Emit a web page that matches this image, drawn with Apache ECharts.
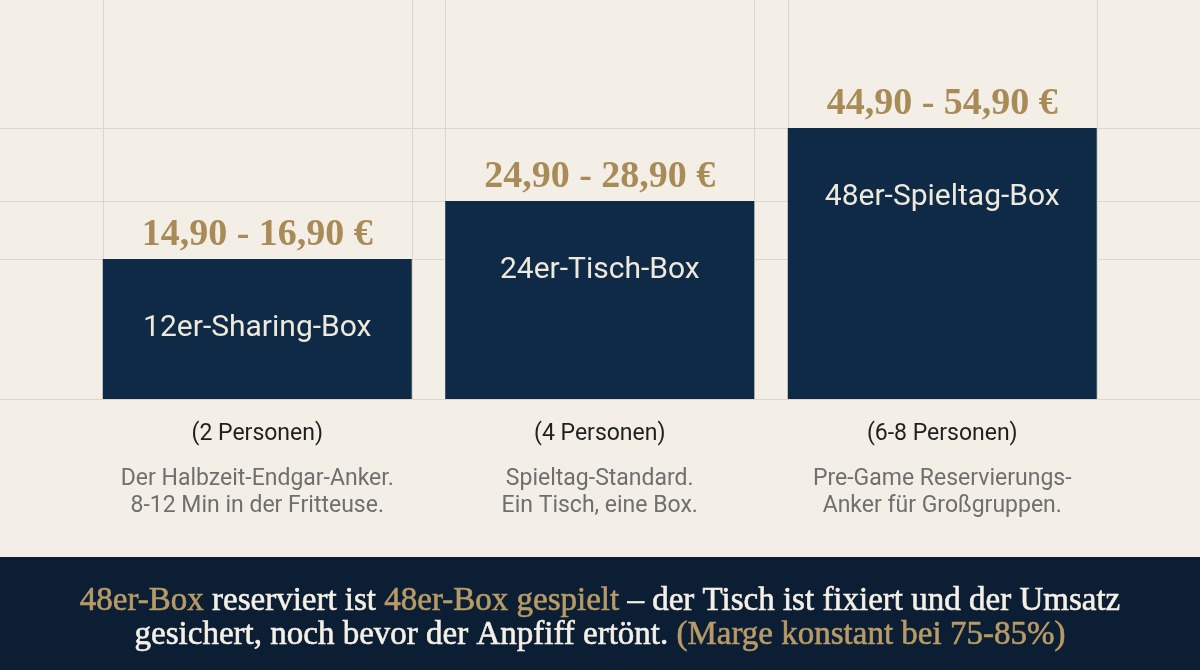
<!DOCTYPE html>
<html>
<head>
<meta charset="utf-8">
<script src="https://cdn.jsdelivr.net/npm/echarts@6/dist/echarts.min.js"></script>
<style>
html,body{margin:0;padding:0;background:#f3efe6;}
#chart{width:1200px;height:670px;}
</style>
</head>
<body>
<div id="chart"></div>
<script>
const categories = ['12er-Sharing-Box', '24er-Tisch-Box', '48er-Spieltag-Box'];
const priceLabels = ['14,90 - 16,90 €', '24,90 - 28,90 €', '44,90 - 54,90 €'];
const barHeights = [140, 198, 271];
const persons = ['(2 Personen)', '(4 Personen)', '(6-8 Personen)'];
const descLine1 = ['Der Halbzeit-Endgar-Anker.', 'Spieltag-Standard.', 'Pre-Game Reservierungs-'];
const descLine2 = ['8-12 Min in der Fritteuse.', 'Ein Tisch, eine Box.', 'Anker für Großgruppen.'];

const BAR_W = 309;
const chart = echarts.init(document.getElementById('chart'));

const bannerText =
  '{g|48er-Box}{w| reserviert ist }{g|48er-Box gespielt}{w| – der Tisch ist fixiert und der Umsatz}\n' +
  '{w|gesichert, noch bevor der Anpfiff ertönt. }{g|(Marge konstant bei 75-85%)}';

const option = {
  backgroundColor: '#f3efe6',
  animation: false,
  grid: { left: 86, right: 86.5, top: 0, bottom: 271 },
  xAxis: {
    type: 'category',
    data: categories,
    axisLine: { show: false },
    axisTick: { show: false },
    splitLine: { show: false },
    axisLabel: {
      interval: 0,
      margin: 4,
      formatter: function (v, i) {
        return '{p|' + persons[i] + '}\n{d|' + descLine1[i] + '}\n{d|' + descLine2[i] + '}';
      },
      rich: {
        p: { fontFamily: 'Roboto', fontSize: 23, color: '#1f1f1f', lineHeight: 63 },
        d: { fontFamily: 'Roboto', fontSize: 23, color: '#6f6f6f', lineHeight: 27 }
      }
    }
  },
  yAxis: { type: 'value', min: 0, max: 399, show: false },
  series: [
    {
      type: 'custom',
      z: 1,
      silent: true,
      encode: { x: 0, y: 1 },
      data: barHeights.map(function (v, i) { return [i, v]; }),
      renderItem: function (params, api) {
        const i = api.value(0);
        const v = api.value(1);
        const top = api.coord([i, v]);
        const base = api.coord([i, 0]);
        const half = BAR_W / 2;
        const st = { stroke: '#dcd6cb', lineWidth: 1 };
        const yt = Math.round(top[1]) + 0.5;
        const yb = Math.round(base[1]) + 0.5;
        const xl = Math.round(top[0] - half) + 0.5;
        const xr = Math.round(top[0] + half) + 0.5;
        return {
          type: 'group',
          children: [
            { type: 'line', shape: { x1: 0, y1: yt, x2: 1200, y2: yt }, style: st },
            { type: 'line', shape: { x1: 0, y1: yb, x2: 1200, y2: yb }, style: st },
            { type: 'line', shape: { x1: xl, y1: 0, x2: xl, y2: yb }, style: st },
            { type: 'line', shape: { x1: xr, y1: 0, x2: xr, y2: yb }, style: st }
          ]
        };
      }
    },
    {
      type: 'bar',
      z: 2,
      data: barHeights,
      barWidth: BAR_W,
      itemStyle: { color: '#0e2a47' },
      label: {
        show: true,
        position: 'insideTop',
        distance: 54,
        formatter: function (p) { return categories[p.dataIndex]; },
        color: '#efe9dc',
        fontFamily: 'Roboto',
        fontSize: 30
      }
    },
    {
      type: 'bar',
      z: 3,
      data: barHeights,
      barWidth: BAR_W,
      barGap: '-100%',
      silent: true,
      itemStyle: { color: 'rgba(0,0,0,0)' },
      label: {
        show: true,
        position: 'top',
        distance: 5,
        formatter: function (p) { return priceLabels[p.dataIndex]; },
        color: '#a88b57',
        fontFamily: "'Liberation Serif'",
        fontWeight: 'bold',
        fontSize: 38
      }
    }
  ],
  graphic: [
    {
      type: 'rect',
      z: 10,
      shape: { x: 0, y: 557, width: 1200, height: 113 },
      style: { fill: '#0c1e34' }
    },
    {
      type: 'text',
      z: 11,
      x: 600,
      y: 618,
      style: {
        text: bannerText,
        align: 'center',
        verticalAlign: 'middle',
        rich: {
          g: { fontFamily: "'Liberation Serif'", fontSize: 33, lineHeight: 34, fill: '#b89a66', stroke: '#b89a66', lineWidth: 0.6 },
          w: { fontFamily: "'Liberation Serif'", fontSize: 33, lineHeight: 34, fill: '#f5f0e6', stroke: '#f5f0e6', lineWidth: 0.6 }
        }
      }
    }
  ]
};
chart.setOption(option);
</script>
</body>
</html>
